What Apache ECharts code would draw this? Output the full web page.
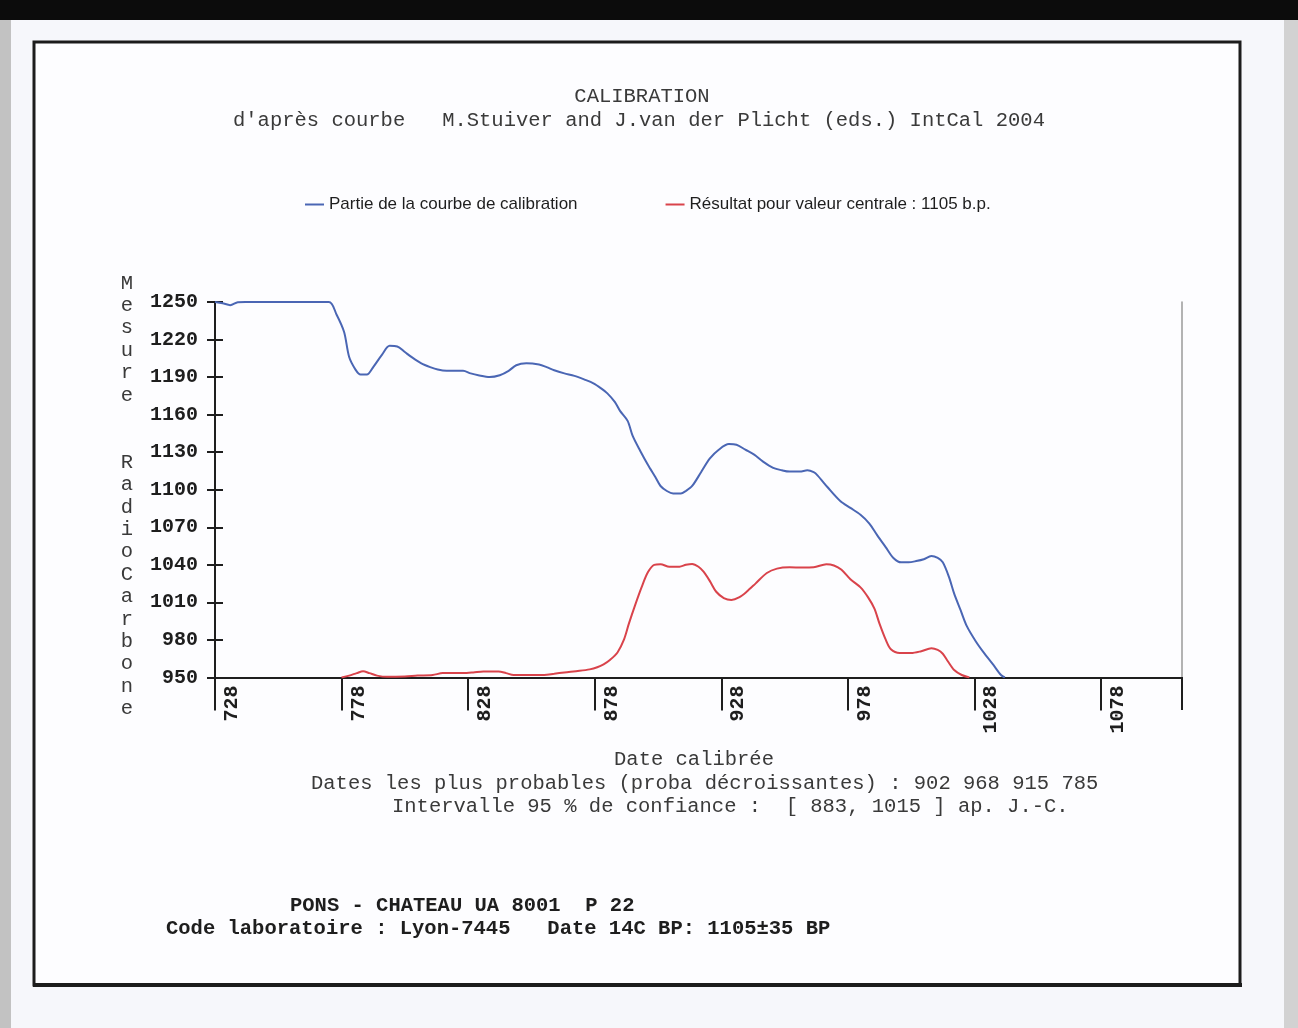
<!DOCTYPE html>
<html>
<head>
<meta charset="utf-8">
<script src="https://cdn.jsdelivr.net/npm/echarts@6/dist/echarts.min.js"></script>
<style>
html,body{margin:0;padding:0;background:#f6f7fb;}
#chart{width:1298px;height:1028px;}
</style>
</head>
<body>
<div id="chart"></div>
<script>
// ---- Data ----
const calibYears = [728,731,734,737,740,773,776,779,781,783.5,785.5,788,790.5,794,797,800,803,806,809.5,813,816,819.5,826,829,832,836.5,840.5,844,847,851,856,859,862,866,870,874,877.5,880.5,883,886,888,891,893,896,899,902,904,906.5,909,912,914,916.5,920,923.5,927,931,934,937.5,941,944.5,948.5,952,955,959,962,964.5,966,970,975,979,983,986.5,989.5,993,996,999,1002,1005,1008,1011,1013.5,1015.5,1018,1020,1022.5,1025,1028.5,1032,1035.5,1038.5,1040];
const calibValues = [1250,1249,1247.5,1249.8,1250,1250,1240,1226,1206,1196,1192,1192,1198,1208,1215,1214.5,1210,1205.5,1201,1198,1196,1195,1195,1193,1191.5,1190,1191.5,1195,1199.5,1201,1200,1198,1195.5,1193,1191,1188,1185,1181,1177,1170,1163,1155,1143,1131,1120,1110,1103,1099,1097,1097,1099,1103,1114,1125,1132,1136.5,1136,1132,1128,1122.5,1117.5,1115.5,1114.5,1114.5,1115.5,1114,1111.5,1102,1091,1085.5,1080,1073,1064,1054,1045.5,1042,1042,1043,1044.5,1047,1045.5,1042,1030,1017,1004,991,979,969,960,952,950];

const resultYears = [778,781,784,786.5,789,792,796,803,808,814,818,826,830,834,840,843,846,852,858,862,866,872,876,879,881.5,884,887,889.5,891.5,894,896.5,899,901.5,904,907.5,911.5,914,916.5,919,921,923.5,926,929,932,935,938,941.5,946,950,955,960,964.5,969.5,972.5,975.5,979,983,986,988.5,990.5,993,995,998.5,1003,1007,1011,1013.5,1015.5,1017.5,1020,1023,1026];
const resultValues = [950,951.5,953.5,955,953.5,951.5,950.5,950.8,951.5,952,953.5,953.5,954,954.8,954.8,953.5,952,952,952,953,954,955.3,956.5,958.2,960.5,964,970,980,993,1008,1022,1034,1040,1040.5,1038.5,1038.5,1040,1040.7,1038.5,1034.5,1027,1018.5,1013.5,1012,1014,1018.5,1025,1033.5,1037,1038,1037.8,1038,1040.5,1039.5,1036,1028.5,1022,1014,1005,993,980,972.5,969.5,969.5,971,973.3,972,969,963,956,952,950];

const seriesNames = ['Partie de la courbe de calibration', 'Résultat pour valeur centrale : 1105 b.p.'];
const xMin = 728, xMax = 1110, xStep = 50;
const yMin = 950, yMax = 1250, yStep = 30;

const titleText = 'CALIBRATION';
const subtitleText = "d'après courbe   M.Stuiver and J.van der Plicht (eds.) IntCal 2004";
const yTitle = 'Mesure RadioCarbone';
const xTitle = 'Date calibrée';
const infoLine1 = 'Dates les plus probables (proba décroissantes) : 902 968 915 785';
const infoLine2 = 'Intervalle 95 % de confiance :  [ 883, 1015 ] ap. J.-C.';
const footLine1 = 'PONS - CHATEAU UA 8001  P 22';
const footLine2 = 'Code laboratoire : Lyon-7445   Date 14C BP: 1105±35 BP';

// ---- Build ----
const pairs = (xs, ys) => xs.map((x, i) => [x, ys[i]]);
const MONO = '"Liberation Mono", "DejaVu Sans Mono", monospace';
const SANS = '"Liberation Sans", Arial, sans-serif';
const ink = '#3a3a3a';
const plain = v => String(v);

// vertical stacked y title: one letter per line, blank line between words
const yTitleStacked = yTitle.replace('Radio', ' Radio').split('').map(c => c === ' ' ? '' : c).join('\n');

const chart = echarts.init(document.getElementById('chart'));
const option = {
  backgroundColor: '#f6f7fb',
  animation: false,
  graphic: [
    { type: 'rect', z: -20, shape: { x: 0, y: 0, width: 1298, height: 20 }, style: { fill: '#0c0c0c' } },
    { type: 'rect', z: -20, shape: { x: 0, y: 20, width: 11, height: 1008 }, style: { fill: '#c2c2c2' } },
    { type: 'rect', z: -20, shape: { x: 1284, y: 20, width: 14, height: 1008 }, style: { fill: '#d2d2d2' } },
    { type: 'rect', z: -20, shape: { x: 34, y: 42, width: 1206, height: 943 }, style: { fill: '#fdfdff', stroke: '#1c1c1c', lineWidth: 3 } },
    { type: 'rect', z: -19, shape: { x: 33, y: 983, width: 1209, height: 4 }, style: { fill: '#1c1c1c' } },
    // right-end tick of the date axis
    { type: 'line', z: 5, shape: { x1: 1182, y1: 677, x2: 1182, y2: 710 }, style: { stroke: '#1e1e1e', lineWidth: 2 } },
    { type: 'text', z: 10, style: { text: titleText, x: 642, y: 97, align: 'center', verticalAlign: 'middle', font: '20.5px ' + MONO, fill: ink } },
    { type: 'text', z: 10, style: { text: subtitleText, x: 233, y: 121, align: 'left', verticalAlign: 'middle', font: '20.5px ' + MONO, fill: ink } },
    { type: 'text', z: 10, style: { text: yTitleStacked, x: 127, y: 496, align: 'center', verticalAlign: 'middle', font: '20.5px ' + MONO, lineHeight: 22.4, fill: ink } },
    { type: 'text', z: 10, style: { text: xTitle, x: 694, y: 760, align: 'center', verticalAlign: 'middle', font: '20.5px ' + MONO, fill: ink } },
    { type: 'text', z: 10, style: { text: infoLine1, x: 311, y: 784, align: 'left', verticalAlign: 'middle', font: '20.5px ' + MONO, fill: ink } },
    { type: 'text', z: 10, style: { text: infoLine2, x: 392, y: 807, align: 'left', verticalAlign: 'middle', font: '20.5px ' + MONO, fill: ink } },
    { type: 'text', z: 10, style: { text: footLine1, x: 290, y: 906, align: 'left', verticalAlign: 'middle', font: 'bold 20.5px ' + MONO, fill: '#1e1e1e' } },
    { type: 'text', z: 10, style: { text: footLine2, x: 166, y: 929, align: 'left', verticalAlign: 'middle', font: 'bold 20.5px ' + MONO, fill: '#1e1e1e' } }
  ],
  legend: {
    left: 300, top: 191,
    itemWidth: 19, itemHeight: 2, itemGap: 88,
    icon: 'rect',
    textStyle: { fontFamily: SANS, fontSize: 17, color: '#1e1e1e' },
    data: seriesNames
  },
  grid: { left: 215, right: 116, top: 302, bottom: 350.5, containLabel: false },
  xAxis: {
    type: 'value', min: xMin, max: xMax, interval: xStep,
    axisLine: { show: true, lineStyle: { color: '#1e1e1e', width: 2 } },
    axisTick: { show: true, length: 33, lineStyle: { color: '#1e1e1e', width: 2 } },
    axisLabel: { rotate: 90, margin: 8, verticalAlign: 'top', padding: [7, 0, 0, 0], showMaxLabel: false,
      formatter: plain, fontFamily: MONO, fontWeight: 'bold', fontSize: 20, color: '#1e1e1e' },
    splitLine: { show: false }
  },
  yAxis: [
    {
      type: 'value', min: yMin, max: yMax, interval: yStep, position: 'left',
      axisLine: { show: true, lineStyle: { color: '#1e1e1e', width: 2 } },
      axisTick: { show: true, length: 8, lineStyle: { color: '#1e1e1e', width: 2 } },
      axisLabel: { margin: 17, formatter: plain, fontFamily: MONO, fontWeight: 'bold', fontSize: 20, color: '#1e1e1e' },
      splitLine: { show: false }
    },
    {
      type: 'value', min: yMin, max: yMax, interval: yStep, position: 'left', offset: 0,
      axisLine: { show: false },
      axisTick: { show: true, inside: true, length: 8, lineStyle: { color: '#1e1e1e', width: 2 } },
      axisLabel: { show: false },
      splitLine: { show: false }
    },
    {
      type: 'value', min: yMin, max: yMax, interval: yStep, position: 'right',
      axisLine: { show: true, lineStyle: { color: '#9a9a9a', width: 1.5 } },
      axisTick: { show: false },
      axisLabel: { show: false },
      splitLine: { show: false }
    }
  ],
  series: [
    {
      name: seriesNames[0], type: 'line', yAxisIndex: 0,
      data: pairs(calibYears, calibValues),
      showSymbol: false, smooth: 0.3,
      lineStyle: { color: '#4a66b4', width: 2 },
      itemStyle: { color: '#4a66b4' },
      z: 3
    },
    {
      name: seriesNames[1], type: 'line', yAxisIndex: 0,
      data: pairs(resultYears, resultValues),
      showSymbol: false, smooth: 0.3,
      lineStyle: { color: '#d9434b', width: 2 },
      itemStyle: { color: '#d9434b' },
      z: 4
    }
  ]
};
chart.setOption(option);
</script>
</body>
</html>
